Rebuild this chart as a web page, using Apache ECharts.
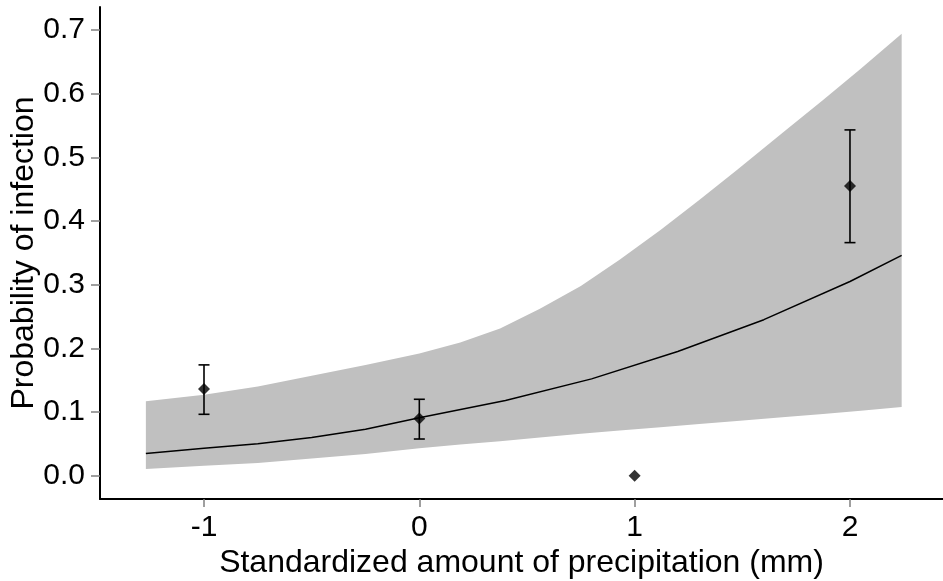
<!DOCTYPE html>
<html>
<head>
<meta charset="utf-8">
<script src="https://cdn.jsdelivr.net/npm/echarts@6/dist/echarts.min.js"></script>
<style>html,body{margin:0;padding:0;background:#fff}#c{width:943px;height:581px}</style>
</head>
<body>
<div id="c"></div>
<script>
// Confidence band
const bandX     = [-1.27, -1.0, -0.75, -0.5, -0.25, 0.0, 0.19, 0.375, 0.56, 0.75, 0.93, 1.12, 1.30, 1.475, 1.7, 1.875, 2.05, 2.24];
const bandLower = [0.0105, 0.0155, 0.020, 0.027, 0.034, 0.043, 0.049, 0.054, 0.060, 0.066, 0.071, 0.076, 0.081, 0.086, 0.092, 0.097, 0.102, 0.108];
const bandUpper = [0.117, 0.127, 0.140, 0.157, 0.174, 0.192, 0.209, 0.231, 0.262, 0.298, 0.339, 0.386, 0.433, 0.480, 0.542, 0.590, 0.639, 0.694];
// Fitted mean curve
const fitX    = [-1.27, -1.0, -0.75, -0.5, -0.25, 0.0, 0.4, 0.8, 1.2, 1.6, 2.0, 2.24];
const fitMean = [0.035, 0.043, 0.050, 0.060, 0.073, 0.091, 0.118, 0.152, 0.195, 0.245, 0.305, 0.346];
// Observed points with error bars
const obsX    = [-1, 0, 1, 2];
const obsY    = [0.136, 0.090, 0.0, 0.455];
const obsLow  = [0.0964, 0.0576, null, 0.366];
const obsHigh = [0.174, 0.120, null, 0.543];
// Ticks
const xTicks = [-1, 0, 1, 2];
const yTicks = [0, 0.1, 0.2, 0.3, 0.4, 0.5, 0.6, 0.7];

const FONT = '"Liberation Sans", Arial, sans-serif';
const chart = echarts.init(document.getElementById('c'));

const bandData = bandX.map((x, i) => [x, bandLower[i], bandUpper[i]]);
const errData = [];
obsX.forEach((x, i) => { if (obsLow[i] !== null) errData.push([x, obsLow[i], obsHigh[i]]); });

chart.setOption({
  animation: false,
  backgroundColor: '#fff',
  grid: { left: 100, right: 0, top: 7, bottom: 82, outerBoundsMode: 'none' },
  xAxis: {
    type: 'value', min: -1.483, max: 2.432,
    name: 'Standardized amount of precipitation (mm)',
    nameLocation: 'middle', nameGap: 48, nameMoveOverlap: false,
    nameTextStyle: { fontFamily: FONT, fontSize: 32, color: '#000' },
    axisLine: { show: true, onZero: false, lineStyle: { color: '#000', width: 2 } },
    axisTick: { show: true, customValues: xTicks, length: 8, lineStyle: { color: '#808080', width: 1.5 } },
    axisLabel: { customValues: xTicks, fontFamily: FONT, fontSize: 30, color: '#000', margin: 14,
      formatter: v => String(v) },
    splitLine: { show: false }
  },
  yAxis: {
    type: 'value', min: -0.0366, max: 0.736,
    name: 'Probability of infection',
    nameLocation: 'middle', nameGap: 60, nameMoveOverlap: false,
    nameTextStyle: { fontFamily: FONT, fontSize: 32, color: '#000' },
    axisLine: { show: true, onZero: false, lineStyle: { color: '#000', width: 2 } },
    axisTick: { show: true, customValues: yTicks, length: 9, lineStyle: { color: '#808080', width: 1.5 } },
    axisLabel: { customValues: yTicks, fontFamily: FONT, fontSize: 30, color: '#000', margin: 15,
      formatter: v => v.toFixed(1) },
    splitLine: { show: false }
  },
  series: [
    {
      type: 'custom', z: 1, silent: true,
      data: bandData,
      renderItem: function (params, api) {
        if (params.dataIndex !== 0) return null;
        const pts = [];
        for (let i = 0; i < bandData.length; i++) pts.push(api.coord([bandData[i][0], bandData[i][2]]));
        for (let i = bandData.length - 1; i >= 0; i--) pts.push(api.coord([bandData[i][0], bandData[i][1]]));
        return { type: 'polygon', shape: { points: pts }, style: { fill: '#c0c0c0', stroke: null } };
      }
    },
    {
      type: 'line', z: 2, silent: true, showSymbol: false,
      data: fitX.map((x, i) => [x, fitMean[i]]),
      lineStyle: { color: '#000', width: 1.5 }
    },
    {
      type: 'custom', z: 3, silent: true,
      data: errData,
      renderItem: function (params, api) {
        const top = api.coord([api.value(0), api.value(2)]);
        const bot = api.coord([api.value(0), api.value(1)]);
        const hw = 5.5;
        const st = { stroke: '#000', lineWidth: 1.6 };
        return { type: 'group', children: [
          { type: 'line', shape: { x1: top[0], y1: top[1], x2: bot[0], y2: bot[1] }, style: st },
          { type: 'line', shape: { x1: top[0] - hw, y1: top[1], x2: top[0] + hw, y2: top[1] }, style: st },
          { type: 'line', shape: { x1: bot[0] - hw, y1: bot[1], x2: bot[0] + hw, y2: bot[1] }, style: st }
        ]};
      }
    },
    {
      type: 'scatter', z: 4, silent: true,
      symbol: 'diamond', symbolSize: [12, 12],
      itemStyle: { color: '#000' },
      data: obsX.map((x, i) => [x, obsY[i]])
    }
  ]
});
</script>
</body>
</html>
